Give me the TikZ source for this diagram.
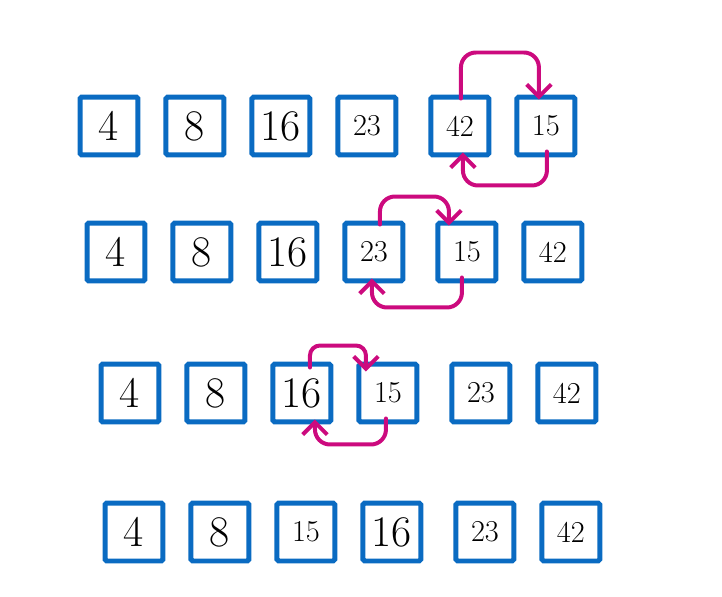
\documentclass[tikz,border=0pt]{standalone}
\usepackage{xcolor}
\usepackage{tikz}
\usetikzlibrary{arrows.meta, positioning, calc}
\definecolor{cellblue}{HTML}{0A6BC2}
\definecolor{swappink}{HTML}{CC0A7E}

\begin{document}
\begin{tikzpicture}[
        x=0.02cm, y=-0.02cm,
        cell/.style={draw=cellblue, line width=0.1cm, minimum size=1.16cm, inner sep=0pt, rounded corners=1pt},
        big/.style={cell, font=\Huge},
        small/.style={cell, font=\LARGE},
        swap/.style={-{Straight Barb[length=7pt, width=14pt]}, line width=0.08cm, line cap=round, rounded corners=0.3cm, swappink}
    ]
        \useasboundingbox (0,0) rectangle (722,597);

        % row 1
        \node (a1) [big] at (109,126) {4};
        \node (a2) [big, right=0.46cm of a1] {8};
        \node (a3) [big, right=0.46cm of a2] {16};
        \node (a4) [small, right=0.46cm of a3] {23};
        \node (a5) [small, right=0.6cm of a4] {42};
        \node (a6) [small, right=0.46cm of a5] {15};

        % row 2
        \node (b1) [big] at (116,252) {4};
        \node (b2) [big, right=0.46cm of b1] {8};
        \node (b3) [big, right=0.46cm of b2] {16};
        \node (b4) [small, right=0.46cm of b3] {23};
        \node (b5) [small, right=0.6cm of b4] {15};
        \node (b6) [small, right=0.46cm of b5] {42};

        % row 3
        \node (c1) [big] at (130,393) {4};
        \node (c2) [big, right=0.46cm of c1] {8};
        \node (c3) [big, right=0.46cm of c2] {16};
        \node (c4) [small, right=0.46cm of c3] {15};
        \node (c5) [small, right=0.6cm of c4] {23};
        \node (c6) [small, right=0.46cm of c5] {42};

        % row 4
        \node (d1) [big] at (134,532) {4};
        \node (d2) [big, right=0.46cm of d1] {8};
        \node (d3) [small, right=0.46cm of d2] {15};
        \node (d4) [big, right=0.46cm of d3] {16};
        \node (d5) [small, right=0.6cm of d4] {23};
        \node (d6) [small, right=0.46cm of d5] {42};

        % swaps
        \draw [swap] ($(a5.north)+(1,4)$) -- ++(0,-46) -| ($(a6.north)+(-7,5)$);
        \draw [swap] ($(a6.south)+(1,-6)$) -- ++(0,34) -| ($(a5.south)+(3,-5)$);
        \draw [swap] ($(b4.north)+(6,4)$) -- ++(0,-28) -| ($(b5.north)+(-18,5)$);
        \draw [swap] ($(b5.south)+(-5,-6)$) -- ++(0,30) -| ($(b4.south)+(-2,-5)$);
        \draw [swap, rounded corners=0.2cm] ($(c3.north)+(8,6)$) -- ++(0,-22) -| ($(c4.north)+(-22,10)$);
        \draw [swap] ($(c4.south)+(-2,-6)$) -- ++(0,26) -| ($(c3.south)+(13,-5)$);
    \end{tikzpicture}
\end{document}
